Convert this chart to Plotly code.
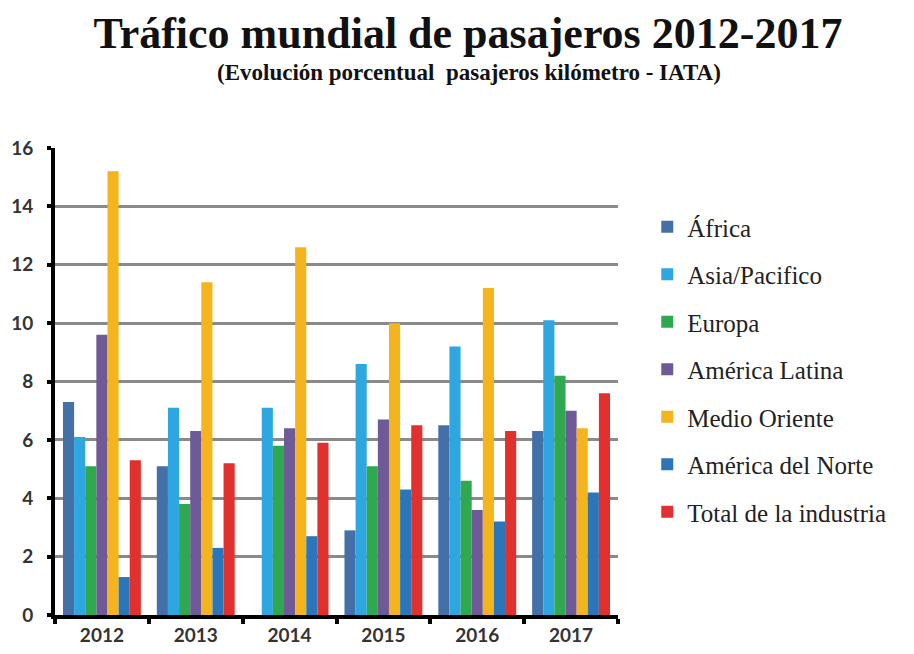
import plotly.graph_objects as go

# Passenger traffic growth (RPK, % change) by region, IATA
years = ["2012", "2013", "2014", "2015", "2016", "2017"]
regions = ["África", "Asia/Pacifico", "Europa", "América Latina",
           "Medio Oriente", "América del Norte", "Total de la industria"]
legend_labels = ["África", "Asia/Pacifico", "Europa", "América Latina",
                 "Medio Oriente", "América del Norte", "Total de la industria"]

africa = [7.3, 5.1, 0, 2.9, 6.5, 6.3]
asia_pacifico = [6.1, 7.1, 7.1, 8.6, 9.2, 10.1]
europa = [5.1, 3.8, 5.8, 5.1, 4.6, 8.2]
america_latina = [9.6, 6.3, 6.4, 6.7, 3.6, 7.0]
medio_oriente = [15.2, 11.4, 12.6, 10.0, 11.2, 6.4]
america_norte = [1.3, 2.3, 2.7, 4.3, 3.2, 4.2]
total_industria = [5.3, 5.2, 5.9, 6.5, 6.3, 7.6]

series = [africa, asia_pacifico, europa, america_latina,
          medio_oriente, america_norte, total_industria]
colors = ["#4470a8", "#2ea6df", "#2fa84f", "#6e5a96",
          "#f3b41e", "#2b76b9", "#e1302e"]

y_ticks = [0, 2, 4, 6, 8, 10, 12, 14, 16]

fig = go.Figure()
for name, label, vals, col in zip(regions, legend_labels, series, colors):
    fig.add_trace(go.Bar(
        x=years, y=vals, name=label, legendgroup=name,
        marker=dict(color=col, line=dict(width=0)),
    ))

fig.update_layout(
    width=914, height=654,
    margin=dict(l=55, r=296, t=148, b=39),
    paper_bgcolor="white", plot_bgcolor="white",
    barmode="group", bargap=0.17, bargroupgap=0,
    showlegend=True,
    legend=dict(
        x=1.052, y=0.88, xanchor="left", yanchor="top",
        traceorder="grouped", tracegroupgap=12,
        font=dict(family="Liberation Serif", size=25, color="#222222"),
        itemwidth=30,
    ),
    title=dict(
        text="<b>Tráfico mundial de pasajeros 2012-2017</b>",
        x=(468 - 55) / 563, xref="paper", xanchor="center",
        y=1 - 33 / 654, yref="container", yanchor="middle",
        font=dict(family="Liberation Serif", size=44, color="#111111"),
    ),
    annotations=[dict(
        text="<b>(Evolución porcentual  pasajeros kilómetro - IATA)</b>",
        xref="paper", yref="paper", x=(469 - 55) / 563, y=(615 - 73) / 467,
        xanchor="center", yanchor="middle", showarrow=False,
        font=dict(family="Liberation Serif", size=23, color="#111111"),
    )],
)

fig.update_xaxes(
    type="category", automargin=False,
    showline=True, linecolor="black", linewidth=4,
    ticks="outside", tickson="boundaries", ticklen=5, tickwidth=4,
    tickcolor="black",
    tickfont=dict(family="Lato", size=19, color="#333333", weight="bold"),
    showgrid=False,
)
fig.update_yaxes(
    range=[0, 16], tickvals=y_ticks, automargin=False,
    showline=True, linecolor="black", linewidth=4,
    ticks="outside", ticklen=4, tickwidth=4, tickcolor="black",
    ticklabelstandoff=10,
    tickfont=dict(family="Lato", size=19, color="#333333", weight="bold"),
    showgrid=True, gridcolor="#8a8a8a", gridwidth=3,
    zeroline=False,
)

fig.write_html("out.html")
